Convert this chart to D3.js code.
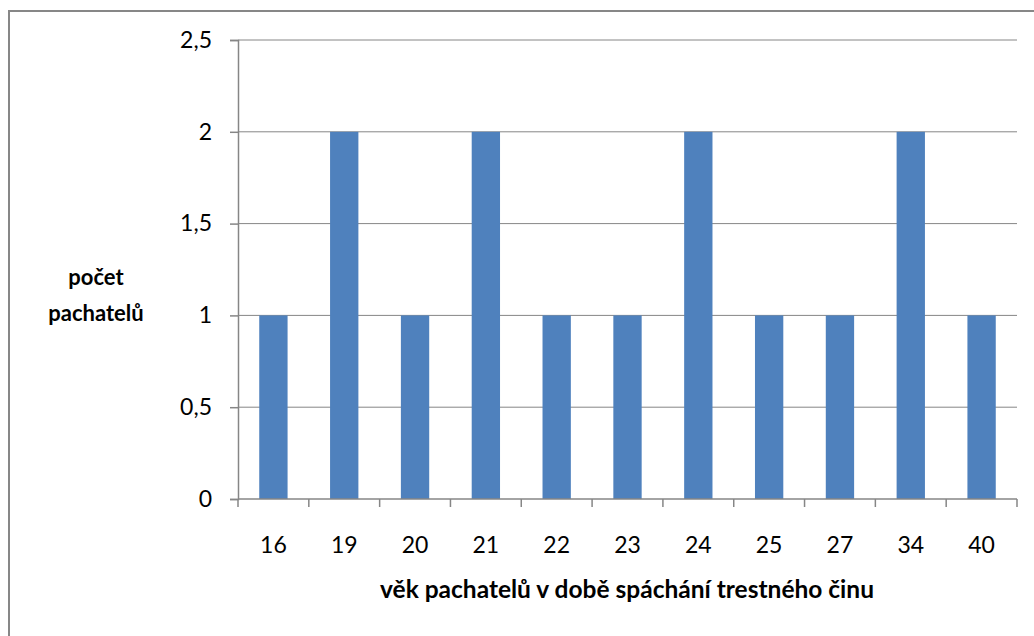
<!DOCTYPE html>
<html>
<head>
<meta charset="utf-8">
<title>věk pachatelů</title>
<script src="https://cdn.jsdelivr.net/npm/d3@7"></script>
<style>
  body { margin: 0; background: #fff; }
  svg text { font-family: Lato, "Open Sans", "Liberation Sans", sans-serif; fill: #000; }
  .axis text { font-size: 23px; }
  .title { font-size: 22px; font-weight: bold; }
  .xtitle { font-size: 24.5px; }
</style>
</head>
<body>
<svg id="chart" width="1034" height="636"></svg>
<script>
// ages (categories) and number of offenders
var ages = ["16", "19", "20", "21", "22", "23", "24", "25", "27", "34", "40"];
var counts = [1, 2, 1, 2, 1, 1, 2, 1, 1, 2, 1];
var yTicks = [0, 0.5, 1, 1.5, 2, 2.5];

var svg = d3.select("#chart");

// outer chart border
svg.append("rect")
  .attr("x", 9).attr("y", 11)
  .attr("width", 1040).attr("height", 640)
  .attr("fill", "none").attr("stroke", "#878787").attr("stroke-width", 2);

var plotL = 238, plotR = 1017, plotT = 40, plotB = 499;

var x = d3.scaleBand().domain(ages).range([plotL, plotR]).paddingInner(0.6).paddingOuter(0.3);
var y = d3.scaleLinear().domain([0, 2.5]).range([plotB, plotT]);

// gridlines
svg.append("g").selectAll("line")
  .data(yTicks.filter(function(d) { return d > 0; }))
  .enter().append("line")
  .attr("x1", plotL).attr("x2", plotR)
  .attr("y1", function(d) { return y(d); }).attr("y2", function(d) { return y(d); })
  .attr("stroke", "#868686").attr("stroke-width", 1);

// bars
svg.append("g").selectAll("rect")
  .data(counts)
  .enter().append("rect")
  .attr("x", function(d, i) { return x(ages[i]); })
  .attr("width", x.bandwidth())
  .attr("y", function(d) { return y(d); })
  .attr("height", function(d) { return y(0) - y(d); })
  .attr("fill", "#4f81bd");

var fmt = function(d) { return String(d).replace(".", ","); };

// y axis
var yAxis = svg.append("g").attr("class", "axis")
  .attr("transform", "translate(" + plotL + ",0)")
  .call(d3.axisLeft(y).tickValues(yTicks).tickFormat(fmt).tickSize(8).tickPadding(18));
yAxis.select(".domain").attr("stroke", "#868686").attr("stroke-width", 1.5);
yAxis.selectAll(".tick line").attr("stroke", "#868686").attr("stroke-width", 1.5);
yAxis.attr("font-family", null).attr("font-size", null);

// x axis with ticks between categories
var xAxis = svg.append("g").attr("class", "axis")
  .attr("transform", "translate(0," + plotB + ")");
xAxis.append("line").attr("x1", plotL).attr("x2", plotR)
  .attr("stroke", "#868686").attr("stroke-width", 1.5);
var step = (plotR - plotL) / ages.length;
xAxis.selectAll("line.tk")
  .data(d3.range(ages.length + 1))
  .enter().append("line").attr("class", "tk")
  .attr("x1", function(i) { return plotL + i * step; })
  .attr("x2", function(i) { return plotL + i * step; })
  .attr("y1", 0).attr("y2", 8)
  .attr("stroke", "#868686").attr("stroke-width", 1.5);
xAxis.selectAll("text")
  .data(ages)
  .enter().append("text")
  .attr("x", function(d) { return x(d) + x.bandwidth() / 2; })
  .attr("y", 54)
  .attr("text-anchor", "middle")
  .text(function(d) { return d; });

// axis titles
var yt = svg.append("text").attr("class", "title").attr("text-anchor", "middle");
yt.append("tspan").attr("x", 96).attr("y", 285).text("počet");
yt.append("tspan").attr("x", 96).attr("y", 321).text("pachatelů");

svg.append("text").attr("class", "title xtitle")
  .attr("x", 627).attr("y", 598).attr("text-anchor", "middle")
  .text("věk pachatelů v době spáchání trestného činu");
</script>
</body>
</html>
